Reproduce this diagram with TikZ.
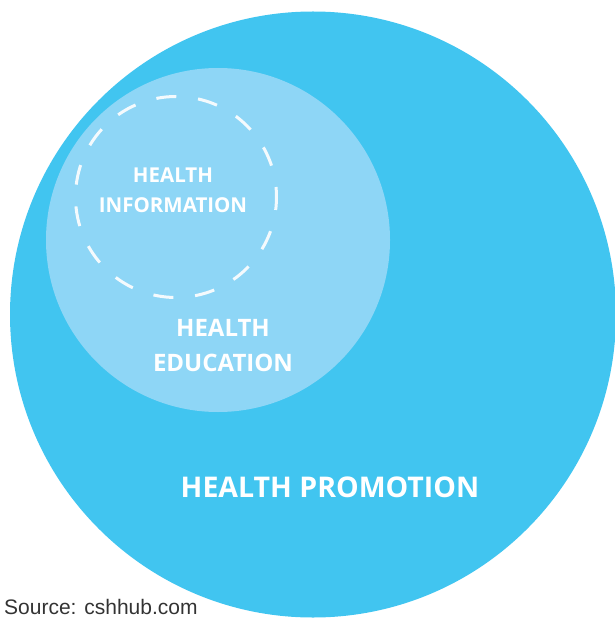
\documentclass[tikz,border=0pt]{standalone}
\usepackage{fontspec}
\setmainfont{Open Sans}
\newfontfamily\srcfont{Liberation Sans}

\definecolor{promoblue}{RGB}{65,197,240}
\definecolor{edublue}{RGB}{142,214,246}
\definecolor{infoline}{RGB}{244,250,253}

\tikzset{
  disc/.style={circle, inner sep=0pt, draw=none},
  label/.style={inner sep=0pt, align=center, text=white, font=\bfseries},
}

\begin{document}
\begin{tikzpicture}[x=1pt, y=-1pt]

\useasboundingbox (0,0) rectangle (614,620);

% nested circles
\node[disc, fill=promoblue, minimum size=606pt] (promo) at (313,314.5) {};
\node[disc, fill=edublue,   minimum size=344pt] (edu)   at (218,240) {};
\node[disc, draw=infoline, line width=3pt,
      dash pattern=on 20pt off 21.9pt, dash phase=10pt,
      minimum size=201pt] (info) at (176,197) {};

% labels
\node[label, font=\bfseries\fontsize{20.5}{30}\selectfont]
  (infoText) at (173,190.5) {HEALTH\\INFORMATION};
\node[label, font=\bfseries\fontsize{24}{35}\selectfont]
  (eduText) at (223,346) {HEALTH\\EDUCATION};
\node[label, font=\bfseries\fontsize{28.5}{34}\selectfont]
  (promoText) at (330,487.5) {HEALTH PROMOTION};

% source line in the bottom corner
\node[inner sep=0pt, anchor=base west, text=black!80,
      font=\srcfont\fontsize{21}{25}\selectfont]
  (source) at (4,614) {Source: cshhub.com};

\end{tikzpicture}
\end{document}
